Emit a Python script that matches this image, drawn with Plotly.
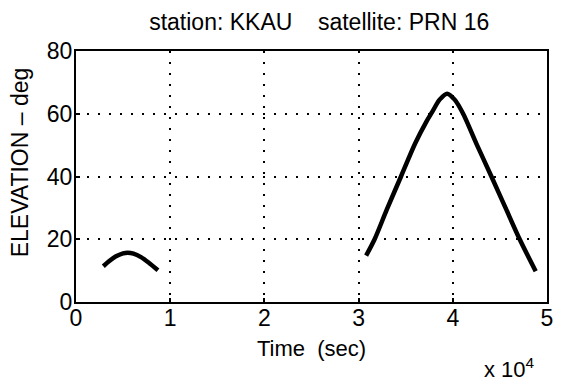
import plotly.graph_objects as go

# First pass of PRN 16 over KKAU (time in seconds, elevation in degrees)
pass1_time = [2900, 3500, 4200, 5000, 5500, 6100, 6900, 7700, 8700]
pass1_elev = [11.4, 13.0, 14.5, 15.5, 15.7, 15.4, 14.3, 12.6, 10.1]

# Second pass
pass2_time = [30800, 31700, 33000, 34500, 36000, 37200, 37800, 38600, 39400,
              40200, 41100, 42500, 44100, 45600, 47100, 48800]
pass2_elev = [14.8, 20.0, 29.5, 40.0, 50.5, 57.5, 60.5, 64.5, 66.4,
              64.5, 60.0, 50.5, 40.0, 30.0, 20.0, 9.8]

x_tick_vals = [0, 10000, 20000, 30000, 40000, 50000]
x_tick_text = ["0", "1", "2", "3", "4", "5"]
y_tick_vals = [0, 20, 40, 60, 80]

FONT = "Liberation Sans, Arial, sans-serif"
TXT = dict(family=FONT, size=23, color="black")

fig = go.Figure()
for t, e in [(pass1_time, pass1_elev), (pass2_time, pass2_elev)]:
    fig.add_trace(go.Scatter(
        x=t, y=e, mode="lines",
        line=dict(color="black", width=4.5, shape="spline", smoothing=0.8),
        showlegend=False, hoverinfo="skip",
    ))

axis_common = dict(
    showgrid=True, gridcolor="black", gridwidth=1.6, griddash="2px,9px",
    showline=True, linecolor="black", linewidth=2, mirror=True,
    ticks="inside", ticklen=4, tickcolor="black", tickwidth=1.5,
    zeroline=False,
    tickfont=TXT,
)

fig.update_layout(
    width=561, height=386,
    margin=dict(l=76, r=8, t=51, b=84),
    paper_bgcolor="white", plot_bgcolor="white",
    font=dict(family=FONT, color="black"),
    title=dict(
        text="station: KKAU    satellite: PRN 16",
        x=0.569, xanchor="center", y=0.943, yanchor="middle",
        font=TXT,
    ),
    xaxis=dict(range=[0, 50000], tickvals=x_tick_vals, ticktext=x_tick_text,
               ticklabelstandoff=-6, **axis_common),
    yaxis=dict(range=[0, 80], tickvals=y_tick_vals, ticklabelstandoff=-3,
               **axis_common),
    annotations=[
        dict(text="Time  (sec)", xref="paper", yref="paper",
             x=0.501, y=-0.186, xanchor="center", yanchor="middle",
             showarrow=False, font=dict(family=FONT, size=22, color="black")),
        dict(text="ELEVATION \u2013 deg", xref="paper", yref="paper",
             x=-0.117, y=0.556, xanchor="center", yanchor="middle",
             textangle=-90, showarrow=False, font=TXT),
        dict(text="x 10<sup>4</sup>", xref="paper", yref="paper",
             x=0.979, y=-0.263, xanchor="right", yanchor="middle",
             showarrow=False, font=dict(family=FONT, size=22, color="black")),
    ],
)

fig.write_html("out.html")
